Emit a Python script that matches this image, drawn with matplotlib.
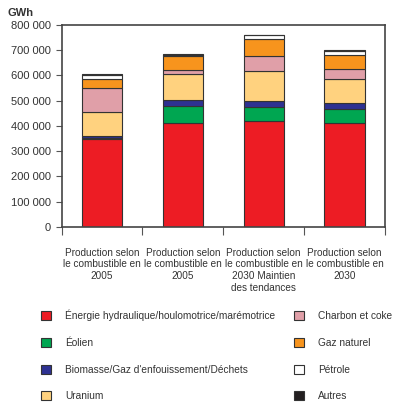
import numpy as np
import matplotlib.pyplot as plt
from matplotlib.ticker import FuncFormatter, FixedLocator

plt.rcParams['font.family'] = ['Liberation Sans', 'DejaVu Sans']

categories = ["Production selon\nle combustible en\n2005",
              "Production selon\nle combustible en\n2005",
              "Production selon\nle combustible en\n2030 Maintien\ndes tendances",
              "Production selon\nle combustible en\n2030"]

series = ["Énergie hydraulique/houlomotrice/marémotrice", "Éolien",
          "Biomasse/Gaz d'enfouissement/Déchets", "Uranium",
          "Charbon et coke", "Gaz naturel", "Pétrole", "Autres"]

hydro = [350000, 413000, 420000, 410000]
eolien = [2000, 67000, 56000, 58000]
biomasse = [9000, 24000, 23000, 23000]
uranium = [93000, 100000, 119000, 94000]
charbon = [95000, 17000, 60000, 39000]
gaz = [37000, 55000, 68000, 56000]
petrole = [17000, 4000, 14000, 17000]
autres = [3000, 6000, 2000, 2000]

colors = ["#ed1c24", "#00a651", "#2e3192", "#ffd27f",
          "#e09fa8", "#f7941d", "#ffffff", "#231f20"]

values = [hydro, eolien, biomasse, uranium, charbon, gaz, petrole, autres]

fig = plt.figure(figsize=(4, 4.13), dpi=100)
ax = fig.add_axes([0.154, 0.4504, 0.8086, 0.4891])

x = np.arange(len(categories))
bottom = np.zeros(len(categories))
for vals, col, name in zip(values, colors, series):
    ax.bar(x, vals, 0.5, bottom=bottom, color=col, edgecolor="#333333",
           linewidth=0.8, label=name)
    bottom += np.array(vals)

ax.set_xlim(-0.5, 3.5)
ax.set_ylim(0, 800000)
ax.set_yticks(np.arange(0, 800001, 100000))
ax.yaxis.set_major_formatter(FuncFormatter(lambda v, p: f"{v:,.0f}".replace(",", " ")))
ax.tick_params(axis="y", labelsize=8, length=4, color="#555555", labelcolor="#333333")

ax.xaxis.set_major_locator(FixedLocator([-0.5, 0.5, 1.5, 2.5, 3.5]))
ax.xaxis.set_minor_locator(FixedLocator(x))
ax.set_xticklabels([], minor=False)
ax.set_xticklabels(categories, minor=True, fontsize=7.2, color="#333333", linespacing=1.2)
ax.tick_params(axis="x", which="major", length=6, color="#555555")
ax.tick_params(axis="x", which="minor", length=0, pad=15)

for s in ax.spines.values():
    s.set_color("#444444")
    s.set_linewidth(1.2)

fig.text(7 / 400, 1 - 13 / 413, "GWh", fontsize=8, fontweight="bold",
         color="#333333", va="center")

handles, labels = ax.get_legend_handles_labels()
leg = fig.legend(handles, labels, loc="upper left", bbox_to_anchor=(0.092, 0.26),
                 ncol=2, frameon=False, fontsize=7.3, handlelength=1.0,
                 handleheight=1.0, labelspacing=1.65, columnspacing=1.8,
                 handletextpad=1.4, borderaxespad=0)
for t in leg.get_texts():
    t.set_color("#333333")

plt.savefig("out.png", dpi=100)
